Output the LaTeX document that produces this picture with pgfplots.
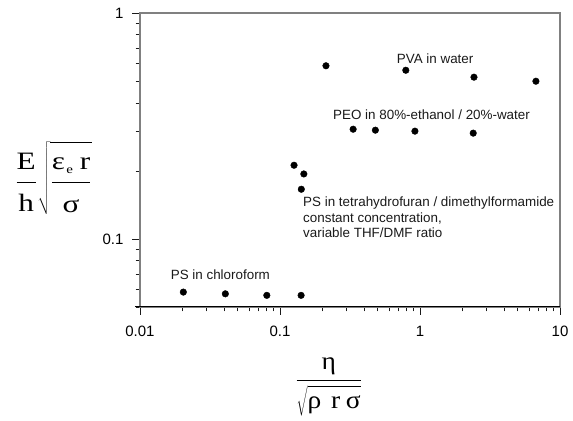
\documentclass[border=0pt]{standalone}
\usepackage{fontspec}
\setmainfont{Liberation Sans}
\newfontfamily\serif{Liberation Serif}
\usepackage{graphicx}
\usepackage{pgfplots}
\pgfplotsset{compat=1.18}
\definecolor{frame}{HTML}{808080}
\definecolor{ink}{HTML}{1A1A1A}
\newcommand\sv[1]{\mbox{\serif #1}}
\begin{document}
\begin{tikzpicture}
\begin{axis}[
  xmode=log, ymode=log,
  scale only axis, width=420pt, height=294pt,
  xmin=0.01, xmax=10, ymin=0.05, ymax=1,
  axis line style={frame, line width=1.1pt},
  tick align=outside, xtick pos=bottom, ytick pos=left,
  major tick length=8pt, minor tick length=4.5pt,
  tick style={ink, line width=0.8pt},
  log ticks with fixed point,
  ticklabel style={font=\fontsize{15}{18}\selectfont, text=black},
  xticklabel style={yshift=-8pt},
  yticklabel style={xshift=-5pt},
  /pgf/number format/assume math mode=true,
  clip=false
]
% PS in chloroform
\addplot[only marks, mark=*, mark size=3.3pt, black] coordinates {
  (0.0204,0.0582) (0.0407,0.0572) (0.0805,0.0563) (0.1415,0.0563)
};
% PS in THF/DMF
\addplot[only marks, mark=*, mark size=3.3pt, black] coordinates {
  (0.126,0.212) (0.148,0.194) (0.142,0.166)
};
% PVA in water
\addplot[only marks, mark=*, mark size=3.3pt, black] coordinates {
  (0.213,0.584) (0.792,0.558) (2.43,0.520) (6.73,0.499)
};
% PEO in ethanol/water
\addplot[only marks, mark=*, mark size=3.3pt, black] coordinates {
  (0.333,0.306) (0.480,0.303) (0.920,0.300) (2.40,0.294)
};
\draw[black, line width=1pt] ([xshift=-5pt]rel axis cs:0,0) -- (rel axis cs:1,0);
\node[anchor=base west, inner sep=0pt, text=ink, font=\fontsize{13.4}{15.5}\selectfont]
  at (axis cs:0.682,0.596) {PVA in water};
\node[anchor=base east, inner sep=0pt, text=ink, font=\fontsize{13.4}{15.5}\selectfont]
  at (axis cs:6.11,0.337) {PEO in 80\%-ethanol / 20\%-water};
\node[anchor=base west, inner sep=0pt, text=ink, align=left, font=\fontsize{13.4}{15.5}\selectfont]
  at (axis cs:0.146,0.1013) {PS in tetrahydrofuran / dimethylformamide\\constant concentration,\\variable THF/DMF ratio};
\node[anchor=base west, inner sep=0pt, text=ink, font=\fontsize{13.4}{15.5}\selectfont]
  at (axis cs:0.01656,0.0663) {PS in chloroform};
% axis labels
\node[anchor=base west, inner sep=0pt, font=\fontsize{25}{30}\selectfont]
  at ([xshift=-125pt]rel axis cs:0,0.4039)
  {\scalebox{1.25}[1]{$\displaystyle
    \frac{\rule[-11.3pt]{0pt}{11.3pt}\sv{E}}{\rule{0pt}{28.3pt}\sv{h}}
    \sqrt{\frac{\rule[-11pt]{0pt}{33.5pt}\sv{ε}\hspace{1pt}_{\mbox{\serif\fontsize{12}{12}\selectfont e}}\hspace{5pt}\sv{r}}
               {\rule{0pt}{28.9pt}\sv{σ}}}$}};
\node[anchor=base, inner sep=0pt, font=\fontsize{25}{30}\selectfont]
  at ([yshift=-79.25pt]rel axis cs:0.4493,0)
  {\scalebox{1.1}[1]{$\displaystyle\frac{\sv{η}}
     {\rule{0pt}{27.5pt}\sqrt{\rule{0pt}{20pt}\sv{ρ}\hspace{9pt}\sv{r}\hspace{5pt}\sv{σ}}}$}};
\coordinate (sw) at (rel axis cs:0,0);
\coordinate (ne) at (rel axis cs:1,1);
\end{axis}
\pgfresetboundingbox
\path[use as bounding box] ([shift={(-140pt,-114pt)}]sw) rectangle ([shift={(13pt,13pt)}]ne);
\end{tikzpicture}
\end{document}
